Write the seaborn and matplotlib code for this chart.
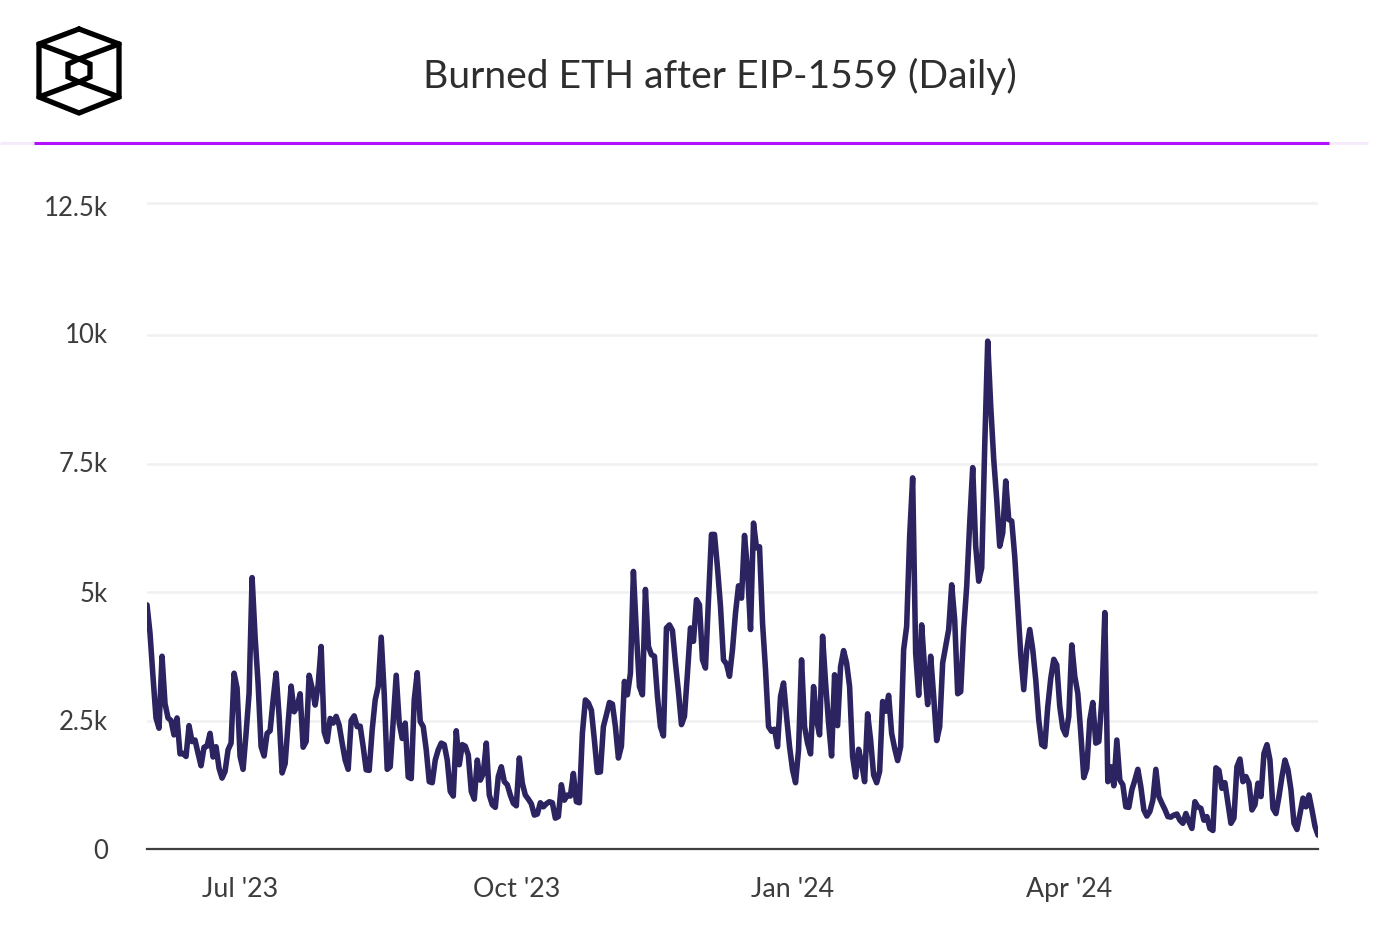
import numpy as np
import pandas as pd
import seaborn as sns
import matplotlib
matplotlib.use('Agg')
import matplotlib.pyplot as plt
from matplotlib.lines import Line2D
from matplotlib.transforms import ScaledTranslation

# daily burned ETH, thousands
burned_k = [
    4.75, 4.2, 3.35, 2.55, 2.35, 3.75, 2.83, 2.55, 2.5, 2.22, 2.55, 1.85, 1.86, 1.8, 2.4, 2.09,
    2.12, 1.86, 1.62, 1.98, 2.0, 2.25, 1.79, 1.99, 1.57, 1.38, 1.51, 1.93, 2.06, 3.42, 3.13, 1.8,
    1.55, 2.25, 3.03, 5.28, 4.13, 3.22, 1.99, 1.81, 2.25, 2.3, 2.9, 3.42, 2.58, 1.48, 1.66, 2.45,
    3.17, 2.67, 2.77, 3.02, 1.98, 2.09, 3.38, 3.13, 2.8, 3.19, 3.94, 2.28, 2.09, 2.54, 2.45, 2.58,
    2.41, 2.06, 1.73, 1.55, 2.5, 2.59, 2.38, 2.39, 1.99, 1.54, 1.53, 2.32, 2.9, 3.16, 4.12, 3.03,
    1.55, 1.6, 2.5, 3.38, 2.45, 2.15, 2.45, 1.4, 1.37, 2.9, 3.43, 2.48, 2.38, 1.93, 1.31, 1.29,
    1.73, 1.93,
    2.06, 2.03, 1.73, 1.12, 1.03, 2.3, 1.64, 2.03, 2.0, 1.83, 1.12, 0.97, 1.73, 1.34, 1.47, 2.06,
    1.05, 0.86, 0.81, 1.41, 1.6, 1.31, 1.25, 1.05, 0.89, 0.84, 1.77, 1.28, 1.05, 0.97, 0.88, 0.66,
    0.68, 0.9, 0.82, 0.88, 0.92, 0.9, 0.6, 0.63, 1.25, 0.95, 1.05, 1.03, 1.47, 0.92, 0.9, 2.25,
    2.9, 2.84, 2.7, 2.12, 1.49, 1.5, 2.38, 2.61, 2.85, 2.82, 2.38, 1.77, 2.0, 3.26, 3.0, 3.42,
    5.4, 4.2, 3.16, 3.0, 5.05, 3.94, 3.78, 3.75, 2.97, 2.38, 2.2, 4.3, 4.36, 4.25, 3.62, 3.06,
    2.42, 2.58, 3.42, 4.3, 4.04, 4.85, 4.75, 3.68, 3.52, 4.85, 6.12, 6.12, 5.47, 4.72, 3.68, 3.6,
    3.36, 3.88, 4.59, 5.12, 4.88, 6.1, 5.43, 4.27, 6.34, 5.86, 5.88, 4.4, 3.49, 2.38, 2.29, 2.33,
    1.99, 2.97, 3.23, 2.58, 1.99, 1.54, 1.29, 1.93, 3.68, 2.38, 2.06, 1.85, 3.16, 2.51, 2.22, 4.14,
    3.23, 2.45, 1.81, 3.39, 2.4, 3.55, 3.86, 3.62, 3.16, 1.8, 1.4, 1.94, 1.67, 1.31, 2.63, 2.12,
    1.44, 1.29, 1.51, 2.87, 2.68, 2.99, 2.25, 1.96, 1.72, 1.99, 3.88, 4.33, 6.08, 7.22, 3.81, 2.99,
    4.36, 3.49, 2.81, 3.75, 2.97, 2.11, 2.38, 3.62, 3.94, 4.27, 5.14, 4.46, 3.02, 3.06, 4.27, 5.11,
    6.34, 7.42, 5.89, 5.21, 5.47, 7.84, 9.88, 8.62, 7.58, 6.8, 5.89, 6.15, 7.16, 6.41, 6.38, 5.69,
    4.72, 3.78, 3.1, 3.88, 4.27, 3.88, 3.29, 2.51,
    2.03, 1.99, 2.77, 3.32, 3.69, 3.58, 2.77, 2.35, 2.22, 2.58, 3.97, 3.36, 3.03, 2.25, 1.39, 1.57,
    2.51, 2.85, 2.06, 2.09, 2.9, 4.6, 1.31, 1.6, 1.23, 2.12, 1.34, 1.25, 0.82, 0.81, 1.15, 1.34,
    1.55, 1.21, 0.76, 0.64, 0.73, 0.95, 1.55, 1.02, 0.89, 0.77, 0.63, 0.62, 0.66, 0.68, 0.56, 0.5,
    0.69, 0.53, 0.4, 0.92, 0.82, 0.79, 0.56, 0.63, 0.4, 0.36, 1.58, 1.53, 1.18, 1.29, 0.89, 0.5,
    0.6, 1.6, 1.75, 1.31, 1.41, 1.28, 0.76, 0.86, 1.28, 1.02, 1.86, 2.03, 1.73, 0.79, 0.69, 1.02,
    1.41, 1.73, 1.54, 1.15, 0.5, 0.38, 0.69, 0.99, 0.82, 1.05, 0.76, 0.44, 0.27,
]
first_day = '2023-05-31'
x_tick_dates = ['2023-07-01', '2023-10-01', '2024-01-01', '2024-04-02']
x_tick_labels = ["Jul '23", "Oct '23", "Jan '24", "Apr '24"]
y_tick_values = [0, 2500, 5000, 7500, 10000, 12570]
y_tick_labels = ['0', '2.5k', '5k', '7.5k', '10k', '12.5k']

W, H = 1394, 926

sns.set_theme(style='white')
plt.rcParams['font.family'] = ['Lato', 'DejaVu Sans']

df = pd.DataFrame({'date': pd.date_range(first_day, periods=len(burned_k)),
                   'burned': np.array(burned_k) * 1000})

fig = plt.figure(figsize=(W / 100, H / 100), dpi=100, facecolor='white')
ax = fig.add_axes([147 / W, (H - 849) / H, (1318 - 147) / W, (849 - 190) / H])

sns.lineplot(data=df, x='date', y='burned', ax=ax, color='#2b2460', linewidth=4.0, zorder=3)
ax.lines[0].set_solid_joinstyle('round')

ax.set_xlim(df['date'].iloc[0], df['date'].iloc[-1])
ax.set_ylim(0, (849 - 190) / 51.4 * 1000)
ax.set_xlabel('')
ax.set_ylabel('')
ax.set_xticks(pd.to_datetime(x_tick_dates))
ax.set_xticklabels(x_tick_labels)
ax.set_yticks(y_tick_values)
ax.set_yticklabels(y_tick_labels)
ax.tick_params(axis='x', length=0, pad=20, labelsize=19.3, labelcolor='#3c3c3c')
ax.tick_params(axis='y', length=0, pad=28, labelsize=18.5, labelcolor='#3c3c3c')
ax.grid(axis='y', color='#f0f0f0', linewidth=1.8)
ax.set_axisbelow(True)
for side in ['top', 'left', 'right']:
    ax.spines[side].set_visible(False)
ax.spines['bottom'].set_color('#3f3f3f')
ax.spines['bottom'].set_linewidth(1.6)

# the reference labels sit a little off their gridlines
for lab, shift in zip(ax.get_yticklabels(), [0, 1, 0, 1.5, 2, -3]):
    lab.set_transform(lab.get_transform() + ScaledTranslation(0, shift / 100, fig.dpi_scale_trans))

# header
fig.text(720 / W, 1 - 76 / H, 'Burned ETH after EIP-1559 (Daily)', ha='center', va='center',
         fontsize=28.1, color='#2e2e2e')


def px_line(xs, ys, **kw):
    fig.add_artist(Line2D([x / W for x in xs], [1 - y / H for y in ys], transform=fig.transFigure, **kw))


px_line([0, 1368], [142.5, 142.5], color='#f6e8fd', linewidth=2, solid_capstyle='butt')
px_line([34, 1329], [142.5, 142.5], color='#b010ff', linewidth=2.2, solid_capstyle='butt')

# logo
logo = dict(color='black', linewidth=3.8, solid_joinstyle='miter', solid_capstyle='round')
px_line([79, 119, 119, 79, 39, 39, 79], [29, 44, 97, 113, 97, 44, 29], **logo)
px_line([39, 79, 119], [44, 59, 44], **logo)
px_line([39, 79, 119], [97, 82, 97], **logo)
px_line([79, 90, 90, 79, 68, 68, 79], [59, 64, 77, 82, 77, 64, 59], **logo)

fig.savefig('out.png', dpi=100)
